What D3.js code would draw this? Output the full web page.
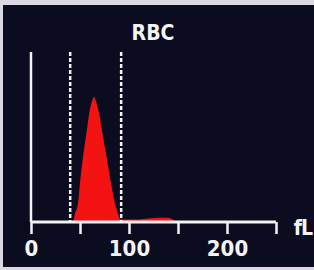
<!DOCTYPE html>
<html>
<head>
<meta charset="utf-8">
<script src="https://cdn.jsdelivr.net/npm/d3@7"></script>
<style>
  html, body { margin: 0; padding: 0; background: #d9d6de; }
  svg { display: block; }
</style>
</head>
<body>
<div id="chart"></div>
<script>
// RBC volume histogram (fL vs relative count)
const volumes = [0, 42, 43, 45, 48, 50, 53, 57, 60, 62.5, 64.3, 66, 68.7, 72.4, 77.2, 81.6, 85.7, 88.8, 91, 93, 100, 110, 120, 130, 140, 146, 150, 250];
const counts  = [0, 0, 0.5, 5, 11, 23, 38, 54, 66, 71.5, 73.5, 71.5, 66, 54, 38, 23, 11, 5, 1.5, 1.5, 1.5, 1.5, 2, 2.5, 2.5, 1, 0, 0];
const discriminators = [40, 92];
const tickValues = [0, 50, 100, 150, 200, 250];
const tickLabels = ["0", "", "100", "", "200", ""];

const W = 314, H = 270;
const FONT = "DejaVu Sans Condensed, DejaVu Sans";
const svg = d3.select("#chart").append("svg")
    .attr("width", W)
    .attr("height", H);

// photo frame: light top/left edges, dark screen
svg.append("rect").attr("width", W).attr("height", H).attr("fill", "#dcd8e2");
svg.append("rect").attr("x", 3).attr("y", 5).attr("width", W - 3).attr("height", H - 8).attr("fill", "#0b0c20");

const x = d3.scaleLinear().domain([0, 250]).range([31, 276]);
const y = d3.scaleLinear().domain([0, 100]).range([222, 52]);

const area = d3.area()
    .x((d, i) => x(volumes[i]))
    .y0(y(0))
    .y1(d => y(d))
    .curve(d3.curveMonotoneX);

svg.append("path")
    .datum(counts)
    .attr("fill", "#f41313")
    .attr("d", area);

// dashed discriminator lines
svg.selectAll(".disc")
    .data(discriminators)
    .enter().append("line")
    .attr("class", "disc")
    .attr("x1", d => x(d)).attr("x2", d => x(d))
    .attr("y1", y(100)).attr("y2", y(0))
    .attr("stroke", "#f2f2f2")
    .attr("stroke-width", 2.5)
    .attr("stroke-dasharray", "4,2");

// y axis line
svg.append("line")
    .attr("x1", x(0)).attr("x2", x(0))
    .attr("y1", y(100)).attr("y2", y(0))
    .attr("stroke", "#f2f2f2")
    .attr("stroke-width", 2.5);

// x axis
const xAxis = svg.append("g")
    .attr("transform", "translate(0," + y(0) + ")")
    .call(d3.axisBottom(x)
        .tickValues(tickValues)
        .tickFormat((d, i) => tickLabels[i])
        .tickSize(12)
        .tickPadding(6));

xAxis.select(".domain")
    .attr("stroke", "#f2f2f2")
    .attr("stroke-width", 3)
    .attr("d", "M" + x(0) + ",0H" + x(250));
xAxis.selectAll(".tick line")
    .attr("stroke", "#f2f2f2")
    .attr("stroke-width", 2.5);
xAxis.selectAll(".tick text")
    .attr("fill", "#f4f4f4")
    .attr("font-family", FONT)
    .attr("font-size", 22)
    .attr("font-weight", 600);

svg.append("text")
    .attr("x", 312)
    .attr("y", 235)
    .attr("text-anchor", "end")
    .attr("fill", "#f4f4f4")
    .attr("font-family", FONT)
    .attr("font-stretch", "condensed")
    .attr("font-size", 21)
    .attr("font-weight", "bold")
    .attr("letter-spacing", -1)
    .text("fL");

svg.append("text")
    .attr("x", 153)
    .attr("y", 40)
    .attr("text-anchor", "middle")
    .attr("fill", "#f4f4f4")
    .attr("font-family", FONT)
    .attr("font-size", 21)
    .attr("font-weight", 600)
    .text("RBC");
</script>
</body>
</html>
